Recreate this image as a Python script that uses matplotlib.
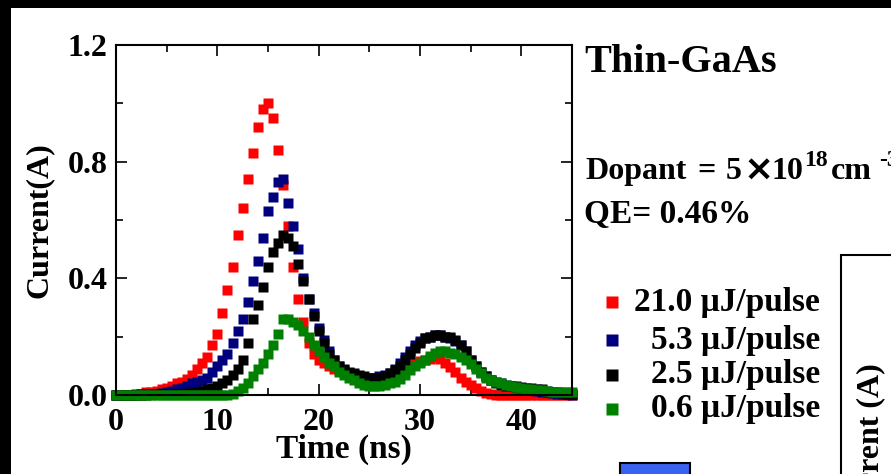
import numpy as np
import matplotlib
matplotlib.use("Agg")
import matplotlib.pyplot as plt
from matplotlib.patches import Rectangle
from matplotlib.lines import Line2D

plt.rcParams['font.family'] = ['Liberation Serif', 'DejaVu Serif']
plt.rcParams['font.weight'] = 'bold'

# sample times (ns), 0.5 ns apart
time = np.arange(0, 45.01, 0.5)

# currents (A)
cur_21 = [0, 0, 0, 0, 0, 0.005, 0.01, 0.012, 0.015, 0.02, 0.025, 0.03, 0.04, 0.045, 0.055,
          0.07, 0.09, 0.11, 0.13, 0.17, 0.21, 0.28, 0.36, 0.44, 0.55, 0.64, 0.74, 0.83, 0.92,
          0.98, 1.0, 0.95, 0.84, 0.72, 0.58, 0.44, 0.33, 0.25, 0.18, 0.14, 0.12, 0.11, 0.10,
          0.09, 0.085, 0.08, 0.075, 0.07, 0.065, 0.06, 0.055, 0.055, 0.055, 0.06, 0.065, 0.07,
          0.08, 0.09, 0.10, 0.11, 0.115, 0.12, 0.125, 0.13, 0.125, 0.11, 0.095, 0.08, 0.06,
          0.045, 0.035, 0.025, 0.015, 0.008, 0.004, 0, 0, 0, 0, 0, 0, 0, 0, 0, 0, 0, 0, 0, 0,
          0, 0]
cur_5 = [0, 0, 0, 0, 0.002, 0.003, 0.004, 0.005, 0.005, 0.008, 0.01, 0.015, 0.02, 0.025,
         0.03, 0.04, 0.045, 0.05, 0.06, 0.08, 0.10, 0.12, 0.14, 0.18, 0.22, 0.26, 0.32, 0.39,
         0.46, 0.54, 0.63, 0.68, 0.73, 0.74, 0.66, 0.58, 0.50, 0.40, 0.33, 0.28, 0.23, 0.19,
         0.15, 0.12, 0.10, 0.085, 0.075, 0.07, 0.065, 0.06, 0.06, 0.06, 0.065, 0.07, 0.075,
         0.09, 0.11, 0.13, 0.15, 0.17, 0.185, 0.195, 0.2, 0.205, 0.205, 0.2, 0.195, 0.185,
         0.17, 0.15, 0.12, 0.10, 0.08, 0.065, 0.05, 0.045, 0.04, 0.035, 0.03, 0.03, 0.025,
         0.02, 0.02, 0.015, 0.012, 0.01, 0.008, 0.005, 0.004, 0.003, 0]
cur_2 = [0, 0, 0, 0, 0, 0, 0, 0.002, 0.002, 0.003, 0.003, 0.003, 0.004, 0.005, 0.006,
         0.008, 0.01, 0.015, 0.02, 0.025, 0.03, 0.04, 0.05, 0.07, 0.09, 0.12, 0.18, 0.26,
         0.31, 0.37, 0.44, 0.49, 0.52, 0.55, 0.54, 0.51, 0.45, 0.39, 0.33, 0.27, 0.22, 0.18,
         0.14, 0.12, 0.10, 0.09, 0.08, 0.075, 0.07, 0.065, 0.06, 0.06, 0.06, 0.065, 0.075,
         0.085, 0.10, 0.12, 0.14, 0.16, 0.18, 0.195, 0.20, 0.205, 0.205, 0.20, 0.20, 0.19,
         0.17, 0.15, 0.12, 0.10, 0.08, 0.065, 0.05, 0.04, 0.035, 0.03, 0.03, 0.028, 0.026,
         0.025, 0.025, 0.022, 0.02, 0.015, 0.012, 0.01, 0.008, 0.005, 0.004]
cur_06 = [0, 0, 0, 0, 0, 0, 0, 0, 0, 0, 0, 0, 0, 0, 0, 0, 0, 0, 0, 0, 0, 0, 0, 0.005,
          0.015, 0.025, 0.04, 0.065, 0.09, 0.11, 0.14, 0.17, 0.21, 0.26, 0.26, 0.25, 0.24,
          0.22, 0.20, 0.17, 0.15, 0.13, 0.11, 0.10, 0.08, 0.07, 0.06, 0.05, 0.04, 0.035, 0.03,
          0.03, 0.03, 0.035, 0.04, 0.045, 0.055, 0.07, 0.085, 0.10, 0.11, 0.12, 0.135, 0.145,
          0.15, 0.15, 0.145, 0.14, 0.13, 0.12, 0.105, 0.09, 0.075, 0.06, 0.05, 0.045, 0.04,
          0.035, 0.03, 0.028, 0.025, 0.022, 0.02, 0.018, 0.016, 0.014, 0.012, 0.01, 0.01,
          0.01, 0.01]

labels = ['21.0 \u03bcJ/pulse', '5.3 \u03bcJ/pulse', '2.5 \u03bcJ/pulse', '0.6 \u03bcJ/pulse']
colors = ['#ff0000', '#00007f', '#000000', '#008000']
series = [cur_21, cur_5, cur_2, cur_06]

W, H = 891, 474
fig = plt.figure(figsize=(W / 100, H / 100), dpi=100)
fig.patch.set_facecolor('black')
# white page inside the black frame
fig.add_artist(Rectangle((11 / W, 0), 1, 1 - 8 / H, transform=fig.transFigure,
                         facecolor='white', edgecolor='none', zorder=0))

ax = fig.add_axes([116 / W, 1 - 395 / H, (572 - 116) / W, (395 - 45) / H])
for y, c in zip(series, colors):
    ax.plot(time, y, 's', color=c, ms=7, mec='none', clip_on=False)

ax.set_xlim(0, 45)
ax.set_ylim(0, 1.2)
ax.set_xticks([0, 10, 20, 30, 40])
ax.set_xticks(np.arange(0, 45, 5), minor=True)
ax.set_yticks([0, 0.4, 0.8, 1.2])
ax.set_yticks(np.arange(0, 1.21, 0.2), minor=True)
ax.set_yticklabels(['0.0', '0.4', '0.8', '1.2'])
ax.tick_params(which='both', direction='in', top=True, right=True, width=1.2,
               labelsize=23)
ax.tick_params(axis='x', pad=9)
ax.tick_params(axis='y', pad=6)
ax.tick_params(which='major', length=8)
ax.tick_params(which='minor', length=5)
for s in ax.spines.values():
    s.set_linewidth(1.5)
ax.set_xlabel('Time (ns)', fontsize=24, fontweight='bold', labelpad=-2)
ax.set_ylabel('Current(A)', fontsize=23, fontweight='bold', labelpad=10)

def px(x, y):
    return x / W, 1 - y / H

fig.text(*px(584, 62), 'Thin-GaAs', fontsize=29, fontweight='bold', va='center')

# Dopant line, put together piece by piece
base = 179
fig.text(*px(585, base), 'Dopant', fontsize=23, fontweight='bold', va='baseline')
fig.text(*px(697, base), '=', fontsize=23, fontweight='bold', va='baseline')
fig.text(*px(726, base), '5', fontsize=23, fontweight='bold', va='baseline')
fig.text(*px(759, base - 9), '\u00d7', fontsize=26, fontweight='bold', va='center',
         ha='center', family='DejaVu Sans')
fig.text(*px(771, base), '10', fontsize=23, fontweight='bold', va='baseline')
fig.text(*px(804, base - 13), '18', fontsize=17, fontweight='bold', va='baseline')
fig.text(*px(831, base), 'cm', fontsize=23, fontweight='bold', va='baseline')
fig.text(*px(879, base - 13), '-3', fontsize=17, fontweight='bold', va='baseline')

fig.text(*px(584, 214), 'QE= 0.46%', fontsize=24, fontweight='bold', va='center')

# legend
leg_y = [302, 340, 375, 409]
for lab, c, yy in zip(labels, colors, leg_y):
    fig.add_artist(Line2D([612 / W], [1 - yy / H], marker='s', ms=9, color=c,
                          mec='none', transform=fig.transFigure))
    fig.text(*px(820, yy), lab, fontsize=24, fontweight='bold', ha='right', va='center')

# pieces of the neighbouring panel
fig.add_artist(Rectangle(px(620, 500), 70 / W, 37 / H, transform=fig.transFigure,
                         facecolor='#3a62f0', edgecolor='black', lw=1.5))
fig.add_artist(Rectangle(px(841, 520), 200 / W, 265 / H, transform=fig.transFigure,
                         facecolor='none', edgecolor='black', lw=1.5))
fig.text(*px(871, 363), 'Current (A)', fontsize=23, fontweight='bold',
         rotation=90, ha='center', va='top')

fig.savefig('out.png', dpi=100, facecolor=fig.get_facecolor())
